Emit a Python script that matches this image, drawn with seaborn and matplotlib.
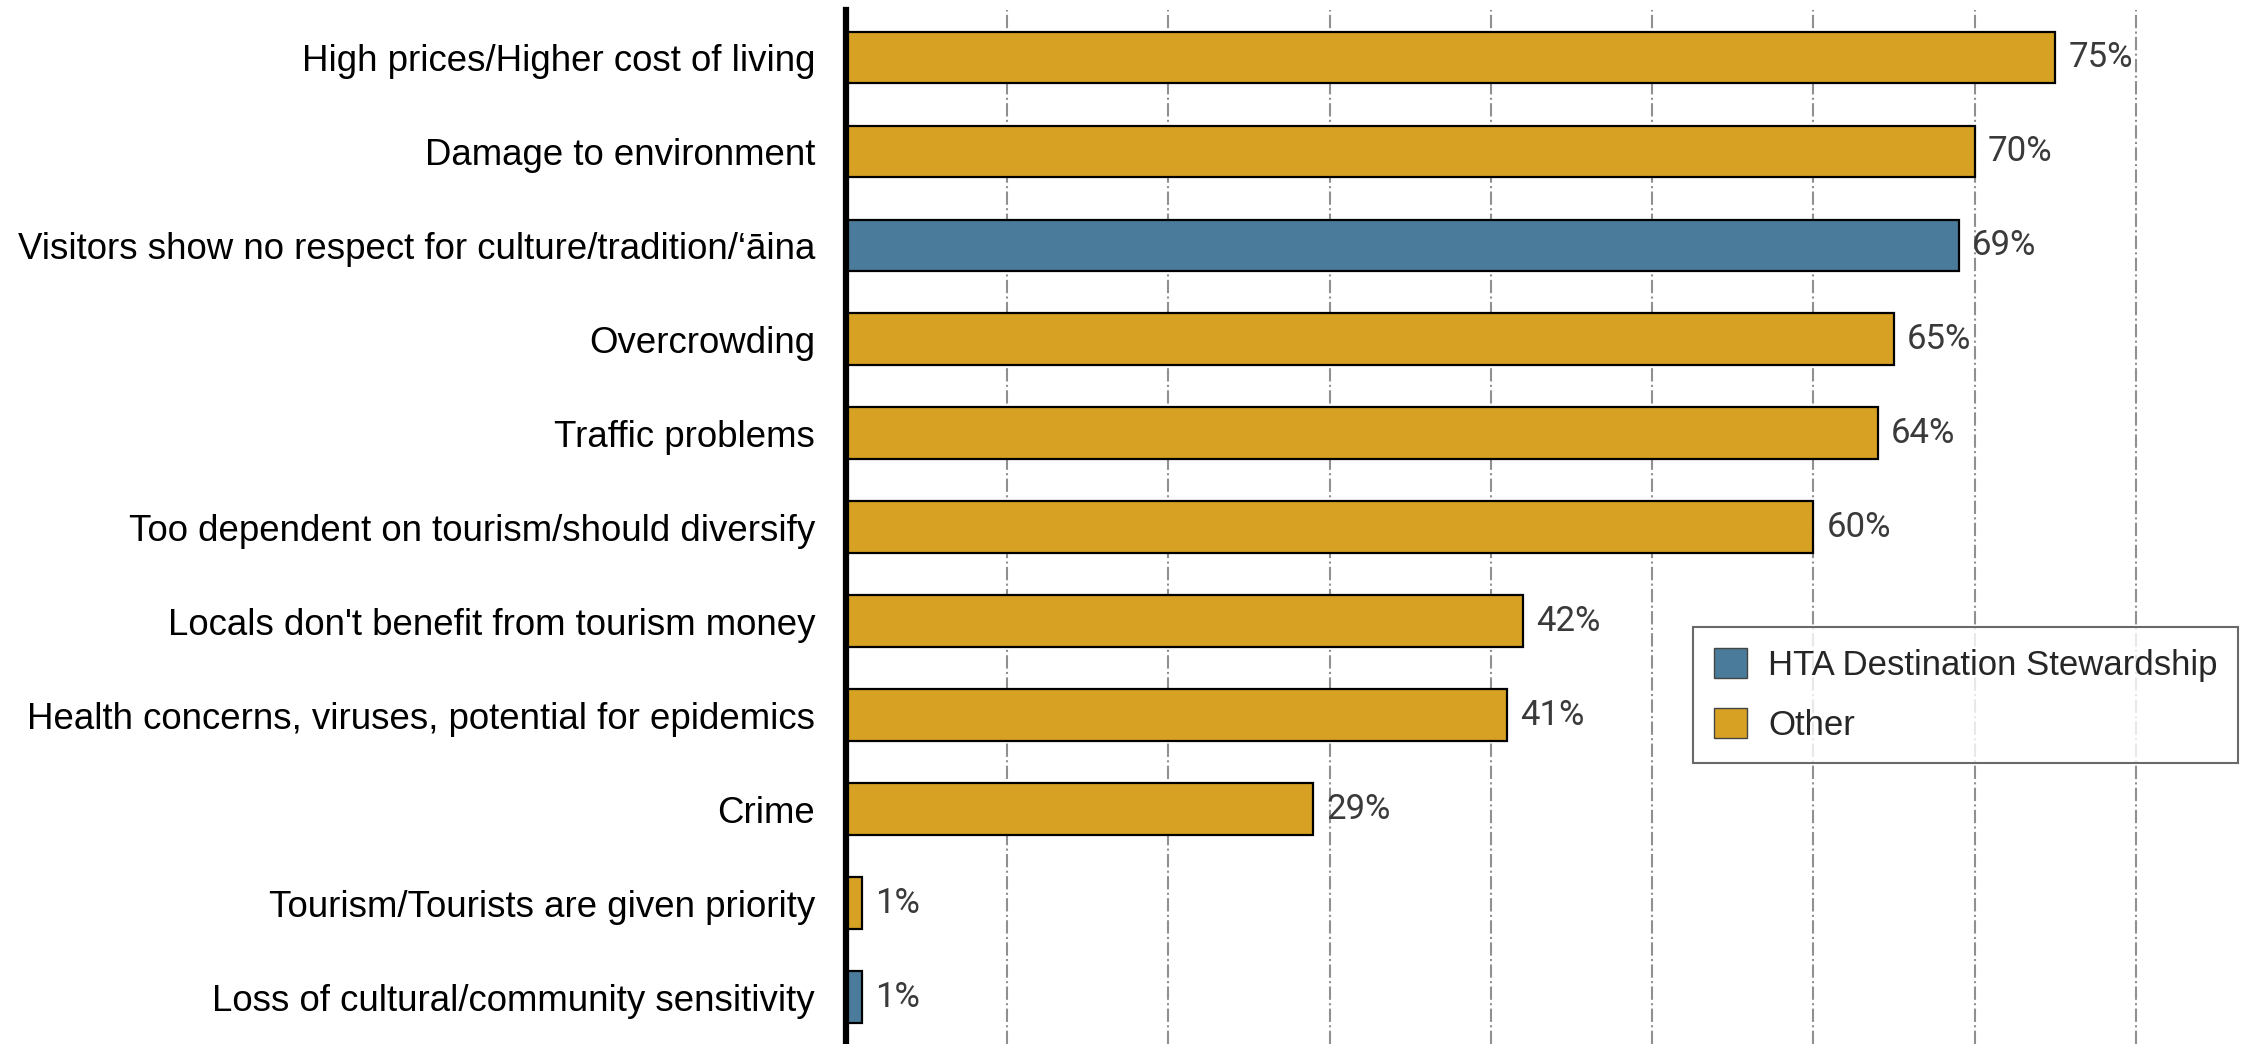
import matplotlib
matplotlib.use("Agg")
import matplotlib.pyplot as plt
import seaborn as sns
import pandas as pd

categories = [
    "High prices/Higher cost of living",
    "Damage to environment",
    "Visitors show no respect for culture/tradition/\u2018\u0101ina",
    "Overcrowding",
    "Traffic problems",
    "Too dependent on tourism/should diversify",
    "Locals don't benefit from tourism money",
    "Health concerns, viruses, potential for epidemics",
    "Crime",
    "Tourism/Tourists are given priority",
    "Loss of cultural/community sensitivity",
]
values = [0.75, 0.70, 0.69, 0.65, 0.64, 0.60, 0.42, 0.41, 0.29, 0.01, 0.01]
groups = ["Other", "Other", "HTA Destination Stewardship", "Other", "Other", "Other",
          "Other", "Other", "Other", "Other", "HTA Destination Stewardship"]
hue_order = ["HTA Destination Stewardship", "Other"]
palette = {"HTA Destination Stewardship": "#4A7B9A", "Other": "#D7A224"}

df = pd.DataFrame({"category": categories, "value": values, "group": groups})

sns.set_theme(style="white")
plt.rcParams["font.family"] = ["Liberation Sans", "DejaVu Sans"]

fig = plt.figure(figsize=(22.49, 10.44), dpi=100)
ax = fig.add_axes([0.376, 0.0, 0.624, 0.990])

sns.barplot(data=df, y="category", x="value", hue="group", hue_order=hue_order,
            palette=palette, saturation=1, dodge=False, orient="h", width=0.55,
            edgecolor="black", linewidth=1.6, ax=ax, zorder=3)

ax.set_xlim(0, 0.87)
ax.set_ylim(10.5, -0.5)
ax.set_xticks([0.1, 0.2, 0.3, 0.4, 0.5, 0.6, 0.7, 0.8])
ax.set_xticklabels([])
ax.grid(axis="x", color="#909090", linestyle="-.", linewidth=1.5, zorder=0)
ax.grid(axis="y", visible=False)
ax.set_xlabel("")
ax.set_ylabel("")
ax.tick_params(axis="y", length=0, labelsize=26.4, pad=22, labelcolor="black")
ax.tick_params(axis="x", length=0)
for s in ["top", "right", "bottom"]:
    ax.spines[s].set_visible(False)
ax.spines["left"].set_color("black")
ax.spines["left"].set_linewidth(4.5)
ax.spines["left"].set_zorder(5)

for i, v in enumerate(values):
    ax.text(v + 0.008, i, f"{round(v*100)}%", va="center", ha="left",
            fontsize=25, color="#3a3a3a", family=["Roboto", "DejaVu Sans"])

leg = ax.legend(loc="upper left", bbox_to_anchor=(0.604, 0.403), fontsize=25,
                frameon=True, fancybox=False, edgecolor="#444444",
                handlelength=0.95, handleheight=0.95, labelspacing=0.75,
                borderpad=0.6, handletextpad=0.6, borderaxespad=0)
leg.get_frame().set_linewidth(1.5)
for h in leg.legend_handles:
    h.set_edgecolor("#444444")
    h.set_linewidth(1.0)

fig.savefig("out.png", dpi=100)
